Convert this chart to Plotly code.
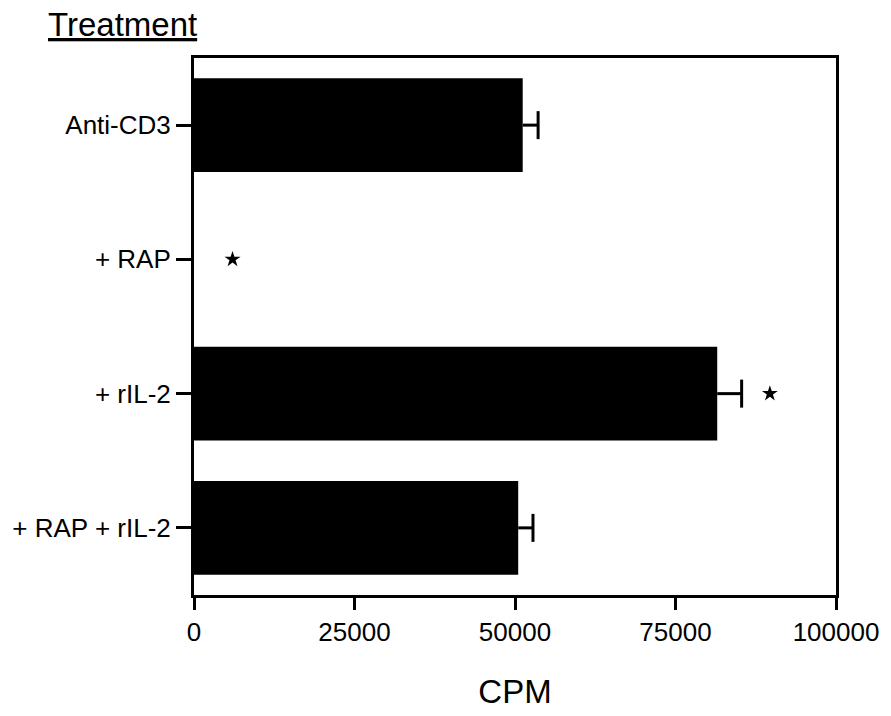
import plotly.graph_objects as go

categories = ["Anti-CD3", "+ RAP", "+ rIL-2", "+ RAP + rIL-2"]
cpm = [51200, 0, 81500, 50500]
sem = [2400, 0, 3800, 2300]
star_cats = ["+ RAP", "+ rIL-2"]
star_x = [6000, 89700]
tick_vals = [0, 25000, 50000, 75000, 100000]
tick_text = ["0", "25000", "50000", "75000", "100000"]

FONT = "Liberation Sans, Arial, Helvetica, sans-serif"

fig = go.Figure()
fig.add_trace(go.Bar(
    y=categories, x=cpm, orientation="h",
    marker=dict(color="black", line=dict(width=0)),
    width=0.7, showlegend=False,
))

# one-sided error bars (stem from bar end + cap), only where an error exists
ex, ey, cx, cy = [], [], [], []
for c, v, s in zip(categories, cpm, sem):
    if s > 0:
        ex += [v, v + s, None]
        ey += [c, c, None]
        cx.append(v + s)
        cy.append(c)
fig.add_trace(go.Scatter(x=ex, y=ey, mode="lines",
                         line=dict(color="black", width=3), showlegend=False))
fig.add_trace(go.Scatter(x=cx, y=cy, mode="markers",
                         marker=dict(symbol="line-ns", size=20,
                                     line=dict(color="black", width=3)),
                         showlegend=False))

fig.add_trace(go.Scatter(
    y=star_cats, x=star_x, mode="markers",
    marker=dict(symbol="star", size=12, color="black"),
    showlegend=False,
))

fig.update_layout(
    width=891, height=716,
    margin=dict(l=194, r=49, t=58, b=120),
    paper_bgcolor="white", plot_bgcolor="white",
    font=dict(family=FONT, color="black", size=24),
    annotations=[dict(
        text="<u>Treatment</u>", xref="paper", yref="paper",
        x=-0.23, y=1.0, yshift=54, xanchor="left", yanchor="top",
        showarrow=False, font=dict(size=33, family=FONT, color="black"),
    )],
)
fig.update_xaxes(
    range=[0, 100000], tickvals=tick_vals, ticktext=tick_text,
    showline=True, linecolor="black", linewidth=3, mirror=True,
    ticks="outside", ticklen=12, tickwidth=3, tickcolor="black",
    showgrid=False, zeroline=False,
    tickfont=dict(size=26),
    title=dict(text="CPM", font=dict(size=33), standoff=34),
)
fig.update_yaxes(
    categoryorder="array", categoryarray=categories, autorange="reversed",
    showline=True, linecolor="black", linewidth=3, mirror=True,
    ticks="outside", ticklen=15, tickwidth=3, tickcolor="black",
    showgrid=False, zeroline=False,
    tickfont=dict(size=26),
)

fig.write_html("out.html")
